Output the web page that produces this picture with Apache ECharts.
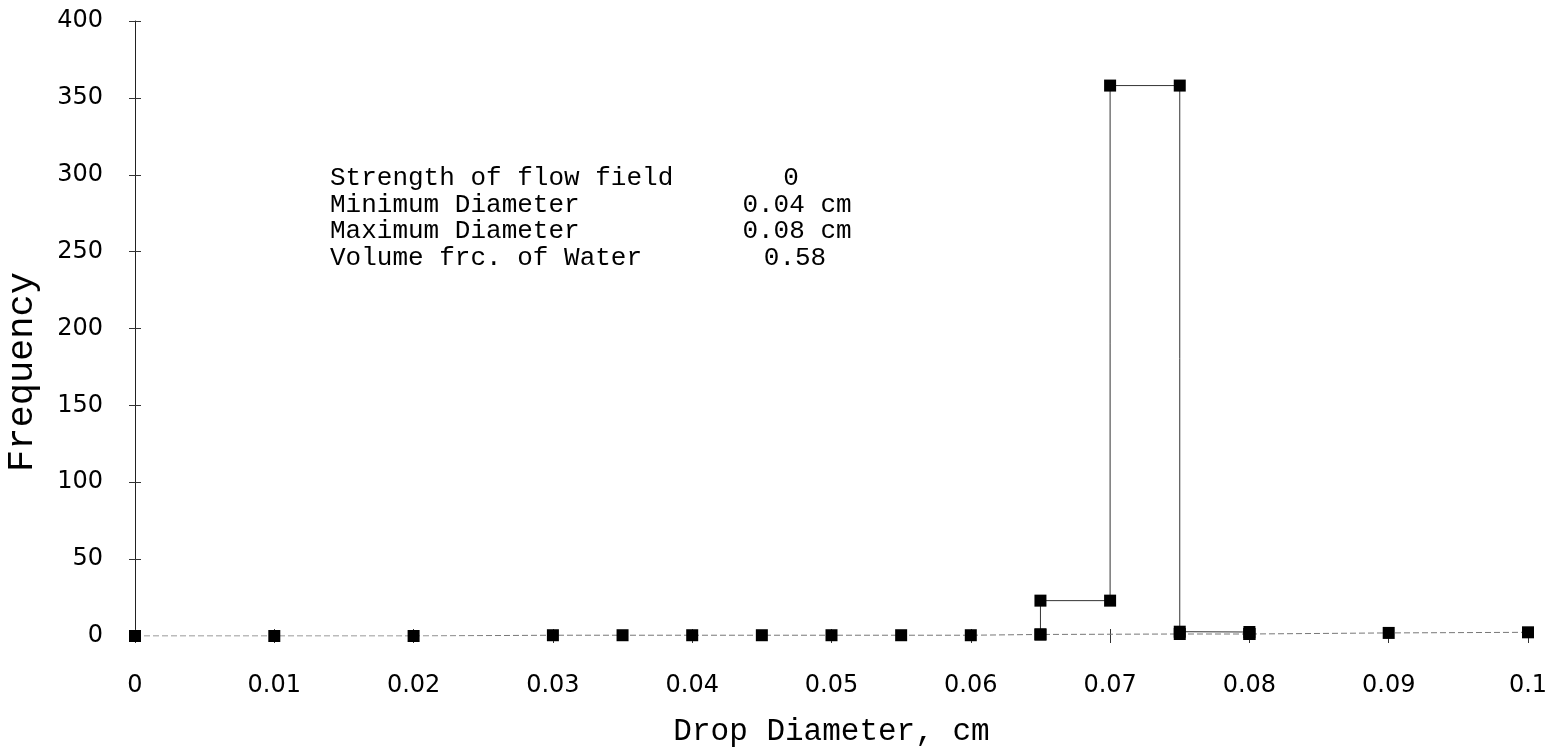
<!DOCTYPE html>
<html>
<head>
<meta charset="utf-8">
<script src="https://cdn.jsdelivr.net/npm/echarts@6/dist/echarts.min.js"></script>
<style>
html,body{margin:0;padding:0;background:#fff;}
#chart{width:1550px;height:749px;}
</style>
</head>
<body>
<div id="chart"></div>
<script>
// ---- data ----
const xTickLabels = ['0','0.01','0.02','0.03','0.04','0.05','0.06','0.07','0.08','0.09','0.1'];
const yTickLabels = ['0','50','100','150','200','250','300','350','400'];
// baseline points (drop diameter, frequency)
const baseX = [0, 0.01, 0.02, 0.03, 0.035, 0.04, 0.045, 0.05, 0.055, 0.06, 0.065, 0.075, 0.08, 0.09, 0.1];
const baseY = [0, 0, 0, 0.5, 0.5, 0.5, 0.5, 0.5, 0.5, 0.5, 1, 1.3, 1.3, 2, 2.4];
// histogram outline around the peak
const stepX = [0.065, 0.065, 0.07, 0.07, 0.075, 0.075, 0.08, 0.08];
const stepY = [1, 23, 23, 358, 358, 2.8, 2.6, 1.3];
// annotation
const noteLabels = ['Strength of flow field', 'Minimum Diameter', 'Maximum Diameter', 'Volume frc. of Water'];
const noteValues = ['0', '0.04 cm', '0.08 cm', '0.58'];
const yTitle = 'Frequency';
const xTitle = 'Drop Diameter, cm';

const chart = echarts.init(document.getElementById('chart'));
const zip = (xs, ys) => xs.map((x, i) => [x, ys[i]]);

const monoFont = '"Liberation Mono", "DejaVu Sans Mono", monospace';
const sansFont = '"DejaVu Sans", sans-serif';

const graphics = [];
const noteYs = [178, 205, 231, 258];
const noteValX = [791, 797, 797, 795];
noteLabels.forEach((t, i) => {
  graphics.push({type:'text', x: 330, y: noteYs[i],
    style:{text: t, fill:'#000', font: '26px ' + monoFont, verticalAlign:'middle'}});
});
noteValues.forEach((t, i) => {
  graphics.push({type:'text', x: noteValX[i], y: noteYs[i],
    style:{text: t, fill:'#000', font: '26px ' + monoFont, align:'center', verticalAlign:'middle'}});
});
graphics.push({type:'text', x: 22, y: 372, rotation: Math.PI / 2,
  style:{text: yTitle, fill:'#000', font: '37px ' + monoFont, align:'center', verticalAlign:'middle'}});

chart.setOption({
  animation: false,
  backgroundColor: '#fff',
  grid: {left: 135, right: 22, top: 21, bottom: 113, containLabel: false, outerBoundsMode: 'none'},
  xAxis: [{
    type: 'value', min: 0, max: 0.1, interval: 0.01,
    name: xTitle, nameLocation: 'middle', nameGap: 80,
    nameTextStyle: {fontFamily: monoFont, fontSize: 31, color: '#000'},
    axisLine: {show: false},
    axisTick: {show: true, length: 7, lineStyle: {color: '#333', width: 1}},
    axisLabel: {margin: 38, fontFamily: sansFont, fontSize: 24, color: '#000',
      formatter: v => xTickLabels[Math.round(v / 0.01)]},
    splitLine: {show: false}
  }, {
    type: 'value', min: 0, max: 0.1, interval: 0.01, position: 'bottom',
    axisLine: {show: false},
    axisTick: {show: true, inside: true, length: 7, lineStyle: {color: '#333', width: 1}},
    axisLabel: {show: false}, splitLine: {show: false}
  }],
  yAxis: [{
    type: 'value', min: 0, max: 400, interval: 50,
    axisLine: {show: true, lineStyle: {color: '#222', width: 1}},
    axisTick: {show: true, length: 6, lineStyle: {color: '#333', width: 1}},
    axisLabel: {margin: 32, fontFamily: sansFont, fontSize: 24, color: '#000',
      formatter: v => yTickLabels[Math.round(v / 50)]},
    splitLine: {show: false}
  }, {
    type: 'value', min: 0, max: 400, interval: 50, position: 'left',
    axisLine: {show: false},
    axisTick: {show: true, inside: true, length: 6, lineStyle: {color: '#333', width: 1}},
    axisLabel: {show: false}, splitLine: {show: false}
  }],
  series: [{
    type: 'line', xAxisIndex: 0, yAxisIndex: 0,
    data: zip(baseX, baseY),
    symbol: 'rect', symbolSize: 12, itemStyle: {color: '#000'},
    lineStyle: {color: '#777', width: 1, type: [6, 3]}
  }, {
    type: 'line', xAxisIndex: 0, yAxisIndex: 0,
    data: zip(stepX, stepY),
    symbol: 'rect', symbolSize: 12, itemStyle: {color: '#000'},
    lineStyle: {color: '#333', width: 1}
  }],
  graphic: graphics
});
</script>
</body>
</html>
